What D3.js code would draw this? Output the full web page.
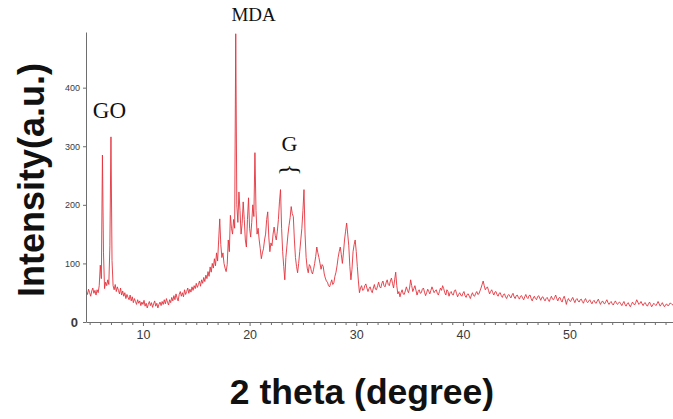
<!DOCTYPE html>
<meta charset="utf-8">
<style>
body { margin: 0; background: #fff; }
.trace { fill: none; stroke: #e3323c; stroke-width: 0.9; stroke-linejoin: round; }
.axis path, .axis line { stroke: #6e6e6e; }
.axis text { fill: #3a3a3a; font-family: "Liberation Sans", Arial, sans-serif; }
.title { font-family: "Liberation Sans", Arial, sans-serif; font-weight: bold; fill: #111; }
.note { font-family: "Liberation Serif", "Times New Roman", serif; fill: #111; }
</style>
<svg id="chart" width="673" height="419"></svg>
<script src="https://d3js.org/d3.v7.min.js"></script>
<script>

// XRD scan, 2 theta from 4.7 deg in steps of 0.1 deg (one row = 1 deg)
var angleStart = 4.7, angleStep = 0.1;
var intensity = [
  52, 47, 56, 50, 44, 53, 58, 49, 54, 46,        // 4.7
  55, 50, 62, 97, 74, 285, 118, 57, 68, 62,      // 5.7
  72, 64, 130, 316, 105, 62, 55, 64, 52, 60,     // 6.7
  54, 48, 58, 46, 53, 44, 50, 40, 47, 42,        // 7.7
  38, 46, 36, 43, 33, 40, 35, 30, 38, 32,        // 8.7
  36, 28, 34, 30, 37, 27, 32, 24, 30, 35,        // 9.7
  28, 33, 25, 31, 36, 27, 32, 24, 30, 34,        // 10.7
  28, 35, 30, 38, 31, 40, 34, 29, 38, 33,        // 11.7
  42, 36, 45, 38, 48, 41, 36, 47, 52, 44,        // 12.7
  50, 43, 55, 47, 52, 58, 49, 56, 51, 60,        // 13.7
  54, 62, 57, 66, 59, 64, 70, 61, 72, 66,        // 14.7
  76, 69, 80, 74, 86, 78, 94, 85, 100, 92,       // 15.7
  108, 96, 118, 104, 140, 176, 132, 110, 118, 100,  // 16.7
  92, 86, 98, 140, 120, 182, 160, 150, 175, 160,    // 17.7
  492, 200, 170, 222, 190, 150, 168, 205, 175, 140, // 18.7
  128, 175, 212, 160, 145, 170, 200, 180, 289, 190, // 19.7
  150, 160, 140, 125, 108, 118, 125, 140, 150, 175, // 20.7
  188, 145, 120, 135, 130, 150, 162, 148, 140, 155, // 21.7
  175, 205, 226, 160, 120, 95, 72, 110, 130, 150,   // 22.7
  165, 178, 197, 185, 180, 140, 110, 95, 84, 100,   // 23.7
  120, 140, 160, 190, 226, 150, 110, 92, 84, 98,    // 24.7
  95, 86, 82, 90, 100, 112, 128, 118, 110, 100,     // 25.7
  90, 98, 95, 82, 75, 70, 68, 62, 60, 66,           // 26.7
  72, 64, 67, 78, 85, 96, 110, 120, 128, 115,       // 27.7
  100, 118, 140, 155, 169, 150, 130, 95, 72, 90,    // 28.7
  120, 132, 140, 120, 95, 70, 50, 58, 62, 54,       // 29.7
  55, 62, 65, 58, 52, 57, 60, 54, 50, 58,        // 30.7
  64, 56, 55, 62, 68, 60, 58, 66, 70, 62,        // 31.7
  60, 67, 72, 64, 62, 70, 75, 66, 58, 72,        // 32.7
  85, 62, 48, 52, 43, 50, 55, 48, 47, 53,        // 33.7
  60, 54, 50, 58, 72, 62, 52, 57, 62, 54,        // 34.7
  46, 52, 55, 49, 50, 56, 58, 51, 45, 50,        // 35.7
  56, 52, 48, 54, 60, 55, 50, 53, 55, 49,        // 36.7
  46, 52, 58, 54, 62, 57, 50, 46, 55, 52,        // 37.7
  44, 50, 52, 47, 46, 53, 55, 49, 43, 47,        // 38.7
  50, 46, 44, 49, 52, 45, 42, 47, 48, 44,        // 39.7
  40, 46, 50, 45, 44, 49, 52, 47, 48, 53,        // 40.7
  58, 64, 70, 62, 55, 58, 60, 54, 48, 52,        // 41.7
  55, 50, 46, 51, 52, 47, 44, 49, 50, 45,        // 42.7
  42, 47, 48, 43, 40, 45, 47, 44, 41, 46,        // 43.7
  49, 43, 40, 45, 46, 42, 39, 44, 45, 41,        // 44.7
  38, 43, 47, 42, 40, 45, 46, 40, 36, 41,        // 45.7
  44, 40, 38, 43, 45, 41, 37, 42, 43, 39,        // 46.7
  36, 40, 42, 38, 35, 40, 44, 39, 38, 42,        // 47.7
  46, 40, 36, 41, 42, 37, 34, 40, 44, 38,        // 48.7
  30, 37, 40, 36, 35, 39, 42, 37, 33, 38,        // 49.7
  40, 36, 34, 38, 39, 35, 32, 37, 40, 35,        // 50.7
  33, 36, 38, 34, 31, 35, 37, 33, 32, 36,        // 51.7
  39, 34, 30, 34, 36, 32, 31, 35, 38, 33,        // 52.7
  30, 33, 35, 31, 29, 33, 36, 32, 30, 33,        // 53.7
  34, 31, 28, 32, 35, 30, 27, 31, 33, 29,        // 54.7
  26, 30, 34, 31, 29, 33, 38, 34, 30, 32,        // 55.7
  35, 31, 28, 32, 33, 29, 27, 31, 34, 30,        // 56.7
  26, 29, 32, 30, 28, 31, 35, 31, 27, 30,        // 57.7
  33, 29, 26, 29, 31, 28, 28, 32, 32, 30,        // 58.7
  29                                              // 59.7
];

var xMajorTicks = [10, 20, 30, 40, 50];
var yMajorTicks = [0, 100, 200, 300, 400];
var xTitle = "2 theta (degree)";
var yTitle = "Intensity(a.u.)";
var peakLabels = [
  { text: "GO", angle: 5.3, value: 348, size: 23 },
  { text: "MDA", angle: 18.3, value: 513, size: 19 },
  { text: "G", angle: 23.0, value: 292, size: 22 }
];

var svg = d3.select("#chart");

var x = d3.scaleLinear().domain([4.66, 59.7]).range([86, 673]);
var y = d3.scaleLinear().domain([0, 495]).range([322, 32]);

var points = intensity.map(function(v, i) { return [angleStart + i * angleStep, v]; });

var line = d3.line()
    .x(function(d) { return x(d[0]); })
    .y(function(d) { return y(d[1]); });

svg.append("path")
    .datum(points)
    .attr("class", "trace")
    .attr("d", line);

// x axis: minor ticks each degree, labels every 10
var xMinor = d3.range(5, 60, 1).filter(function(t) { return t % 10 != 0; });

svg.append("g")
    .attr("class", "axis")
    .attr("transform", "translate(0,322)")
    .call(d3.axisBottom(x).tickValues(xMinor).tickSize(3).tickFormat("").tickSizeOuter(0))
    .select(".domain").remove();

var gx = svg.append("g")
    .attr("class", "axis")
    .attr("transform", "translate(0,322)")
    .call(d3.axisBottom(x).tickValues(xMajorTicks).tickSize(4).tickSizeOuter(0).tickPadding(4));
gx.selectAll("text").style("font-size", "12.5px");

var gy = svg.append("g")
    .attr("class", "axis")
    .attr("transform", "translate(86,0)")
    .call(d3.axisLeft(y).tickValues(yMajorTicks).tickSize(3).tickSizeOuter(0).tickPadding(3));
gy.selectAll("text").style("font-size", "9px");
gy.selectAll(".tick").filter(function(d) { return d === 0; }).select("text")
    .style("font-size", "13px").style("font-weight", "bold").attr("dx", "-2");

// axis titles
svg.append("text")
    .attr("class", "title")
    .attr("x", 362)
    .attr("y", 404)
    .attr("text-anchor", "middle")
    .style("font-size", "35.5px")
    .text(xTitle);

svg.append("text")
    .attr("class", "title")
    .attr("transform", "translate(44,180) rotate(-90)")
    .attr("text-anchor", "middle")
    .style("font-size", "36px")
    .text(yTitle);

// peak labels
svg.selectAll(".note")
    .data(peakLabels)
  .enter().append("text")
    .attr("class", "note")
    .attr("x", function(d) { return x(d.angle); })
    .attr("y", function(d) { return y(d.value); })
    .style("font-size", function(d) { return d.size + "px"; })
    .text(function(d) { return d.text; });

// brace under the G label
svg.append("text")
    .attr("class", "note")
    .attr("transform", "translate(" + x(23.95) + "," + y(260) + ") rotate(90)")
    .attr("text-anchor", "middle")
    .attr("dy", "0.35em")
    .style("font-size", "25px")
    .text("{");

</script>
